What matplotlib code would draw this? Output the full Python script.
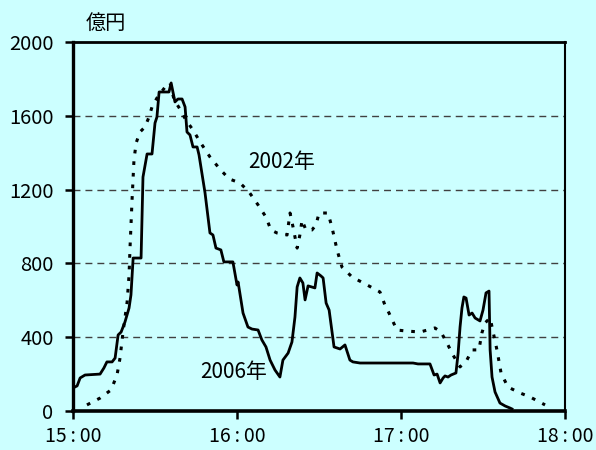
import matplotlib.pyplot as plt

plt.rcParams['font.family'] = ['Noto Sans CJK JP', 'DejaVu Sans']

# minutes after 15:00 and amount (億円)
t_2006 = [0, 1.5, 2.6, 4.4, 9.9, 11.3, 12.4, 14.3, 15.4, 16.5, 17.6, 19.0, 20.5,
          21.2, 22.0, 24.9, 25.6, 27.1, 28.9, 30.0, 30.7, 31.5, 35.1, 35.9, 37.3,
          38.4, 39.9, 41.0, 41.7, 42.8, 43.9, 45.4, 46.1, 48.3, 50.1, 51.2, 52.3,
          54.1, 55.2, 58.5, 60.0, 60.4, 62.2, 64.0, 65.5, 67.7, 69.1, 70.6, 72.1,
          73.9, 75.7, 76.8, 78.7, 80.1, 81.2, 82.0, 83.0, 84.1, 84.9, 86.0, 88.5,
          89.3, 90.7, 91.5, 92.6, 93.7, 95.5, 97.7, 99.5, 101.3, 102.4, 105.0,
          124.4, 126.2, 130.6, 132.1, 133.2, 134.3, 135.4, 136.1, 137.2, 138.3,
          140.1, 140.9, 141.6, 142.3, 143.0, 143.8, 144.9, 146.0, 147.1, 148.9,
          150.0, 151.1, 152.2, 152.6, 153.3, 154.4, 156.2, 158.1, 159.9, 160.6]
v_2006 = [125, 136, 179, 195, 200, 233, 266, 266, 287, 412, 428, 482, 558,
          629, 829, 829, 1268, 1393, 1393, 1561, 1593, 1729, 1729, 1778, 1675,
          1691, 1691, 1648, 1512, 1496, 1431, 1431, 1388, 1182, 965, 954, 883,
          873, 808, 808, 683, 699, 531, 455, 444, 439, 385, 347, 276,
          222, 184, 276, 314, 374, 509, 672, 721, 694, 602, 678, 667,
          748, 732, 721, 585, 547, 347, 336, 358, 276, 266, 260,
          260, 255, 255, 195, 200, 152, 179, 190, 184, 195,
          206, 314, 455, 558, 618, 612, 520, 531, 504, 488,
          547, 640, 650, 331, 184, 103, 43, 27, 16, 11]

t_2002 = [5.1, 9.9, 13.9, 16.1, 17.2, 18.3, 19.8, 20.5, 20.9, 21.6, 22.3, 23.1,
          24.5, 26.3, 27.8, 28.9, 30.7, 33.7, 35.5, 37.0, 39.1, 41.3, 43.9, 46.5,
          50.1, 53.8, 57.1, 61.1, 64.4, 67.7, 70.6, 72.4, 74.6, 78.3, 79.4, 80.5,
          82.0, 83.0, 83.8, 85.2, 87.4, 88.9, 90.0, 91.5, 93.3, 94.8, 96.6, 98.4,
          102.1, 107.6, 112.3, 114.1, 115.6, 118.5, 121.5, 127.0, 132.4, 134.6,
          136.8, 139.0, 141.6, 144.1, 146.0, 148.5, 149.6, 150.7, 152.6, 153.7,
          155.1, 156.6, 159.1, 163.5, 167.2, 172.7]
v_2002 = [33, 70, 114, 195, 287, 428, 591, 737, 900, 1144, 1360, 1453,
          1512, 1539, 1593, 1648, 1696, 1756, 1778, 1686, 1637, 1577, 1523, 1458,
          1377, 1310, 1258, 1236, 1187, 1117, 1051, 981, 965, 954, 1073, 997,
          883, 954, 1035, 981, 981, 1008, 1073, 1073, 1073, 992, 873, 780,
          726, 683, 645, 575, 531, 439, 434, 428, 450, 428,
          369, 304, 239, 276, 331, 331, 423, 477, 504, 428,
          331, 206, 130, 98, 76, 33]

x_ticks = [0, 60, 120, 180]
x_labels = ['15\u2009:\u200900', '16\u2009:\u200900', '17\u2009:\u200900', '18\u2009:\u200900']
y_ticks = [0, 400, 800, 1200, 1600, 2000]

bg = '#ccffff'
fig = plt.figure(figsize=(5.96, 4.5), dpi=100, facecolor=bg)
ax = fig.add_axes([0.1225, 0.0867, 0.8255, 0.82])
ax.set_facecolor(bg)

for y in y_ticks[1:-1]:
    ax.axhline(y, color='#404040', lw=1.0, dashes=(5, 3.6), zorder=1)

ax.plot(t_2002, v_2002, color='black', lw=2.2, dashes=(1.2, 2.6), zorder=3)
ax.plot(t_2006, v_2006, color='black', lw=2.0, zorder=4)

ax.text(64.0, 1350, '2002年', fontsize=15, va='center', ha='left')
ax.text(46.5, 211, '2006年', fontsize=15, va='center', ha='left')
fig.text(106 / 596, 1 - 23 / 450, '億円', fontsize=14.5, ha='center', va='center')

ax.set_xlim(0, 180)
ax.set_ylim(0, 2000)
ax.set_xticks(x_ticks)
ax.set_xticklabels(x_labels)
ax.set_yticks(y_ticks)
ax.tick_params(axis='both', direction='out', length=6, width=1.8,
               labelsize=14.5, color='black')
ax.tick_params(axis='x', pad=5, labelsize=14)
ax.tick_params(axis='y', pad=8)

ax.spines['left'].set_linewidth(2.4)
ax.spines['bottom'].set_linewidth(2.6)
ax.spines['top'].set_linewidth(2.0)
ax.spines['right'].set_linewidth(1.5)

fig.savefig('out.png', dpi=100, facecolor=bg)
